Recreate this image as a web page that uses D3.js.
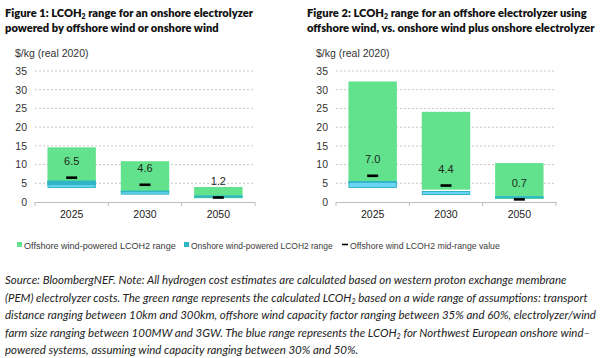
<!DOCTYPE html>
<html><head><meta charset="utf-8">
<script src="https://cdn.jsdelivr.net/npm/d3@7"></script>
<style>
html,body{margin:0;padding:0;background:#fff;}
svg{display:block;}
</style></head>
<body>
<svg id="c" width="600" height="358"></svg>
<script>
// ---- data ----
const categories = ["2025", "2030", "2050"];
const yTicks = [0, 5, 10, 15, 20, 25, 30, 35];
// Figure 1: onshore electrolyzer
const fig1OffshoreLow  = [4.5, 2.6, 1.0];
const fig1OffshoreHigh = [14.6, 10.9, 4.0];
const fig1OnshoreLow   = [3.9, 2.1, 1.3];
const fig1OnshoreHigh  = [5.6, 2.9, 1.6];
const fig1Mid          = [6.5, 4.6, 1.2];
// Figure 2: offshore electrolyzer
const fig2OffshoreLow  = [5.1, 3.3, 0.8];
const fig2OffshoreHigh = [32.2, 24.1, 10.4];
const fig2OnshoreLow   = [3.9, 2.0, 1.1];
const fig2OnshoreHigh  = [5.5, 2.8, 1.4];
const fig2Mid          = [7.0, 4.4, 0.7];

const titles1 = ["Figure 1: LCOH|2| range for an onshore electrolyzer", "powered by offshore wind or onshore wind"];
const titles2 = ["Figure 2: LCOH|2| range for an offshore electrolyzer using", "offshore wind, vs. onshore wind plus onshore electrolyzer"];
const unitLabel = "$/kg (real 2020)";
const legendLabels = ["Offshore wind-powered LCOH2 range", "Onshore wind-powered LCOH2 range", "Offshore wind LCOH2 mid-range value"];
const noteLines = [
  "Source: BloombergNEF. Note: All hydrogen cost estimates are calculated based on western proton exchange membrane",
  "(PEM) electrolyzer costs. The green range represents the calculated LCOH|2| based on a wide range of assumptions: transport",
  "distance ranging between 10km and 300km, offshore wind capacity factor ranging between 35% and 60%, electrolyzer/wind",
  "farm size ranging between 100MW and 3GW. The blue range represents the LCOH|2| for Northwest European onshore wind–",
  "powered systems, assuming wind capacity ranging between 30% and 50%."
];

// ---- style ----
const GREEN = "#62e28d", LBLUE = "#6cd4f4", TEAL = "#2fb6c4";
const svg = d3.select("#c");
const titleFont = "Lato, 'Open Sans', sans-serif";
const axisFont = "'Liberation Sans', Arial, sans-serif";

function richText(g, str, x, y, size, opts) {
  const t = g.append("text").attr("x", x).attr("y", y)
    .attr("font-family", opts.family).attr("font-size", size)
    .attr("font-weight", opts.weight || "normal")
    .attr("font-style", opts.style || "normal")
    .attr("fill", opts.fill || "#000");
  const parts = str.split("|");
  parts.forEach((p, i) => {
    if (i % 2 === 1) {
      t.append("tspan").attr("font-size", size * 0.62).attr("dy", size * 0.18).text(p);
    } else {
      const ts = t.append("tspan").text(p);
      if (i > 0) ts.attr("dy", -size * 0.18);
    }
  });
  return t;
}
function fitWidth(t, target) {
  const w = t.node().getComputedTextLength();
  const fs = +t.attr("font-size");
  const nfs = fs * target / w;
  t.attr("font-size", nfs);
  t.selectAll("tspan").each(function(){
    const s = d3.select(this);
    if (s.attr("font-size")) s.attr("font-size", nfs*0.62);
    if (s.attr("dy")) s.attr("dy", (+s.attr("dy") > 0 ? 1 : -1) * nfs * 0.18);
  });
  return nfs;
}

function panel(x0, x1, titles, titleX, titleW1, offLow, offHigh, onLow, onHigh, mid) {
  const g = svg.append("g");
  // titles
  const t1 = richText(g, titles[0], titleX, 17, 11.5, {family: titleFont, weight: 800, fill: "#111"});
  const fs = fitWidth(t1, titleW1);
  richText(g, titles[1], titleX, 32, fs, {family: titleFont, weight: 800, fill: "#111"});
  g.append("text").attr("x", x0 - 20).attr("y", 57).attr("font-family", axisFont)
    .attr("font-size", 10.5).attr("fill", "#333").text(unitLabel);

  const y = d3.scaleLinear().domain([0, 35]).range([202, 71]);
  const x = d3.scaleBand().domain(categories).range([x0, x1]).paddingInner(0.34).paddingOuter(0.17);

  // grid
  g.append("g").selectAll("line").data(yTicks.filter(d => d > 0)).join("line")
    .attr("x1", x0).attr("x2", x1).attr("y1", d => y(d)).attr("y2", d => y(d))
    .attr("stroke", "#c8c8c8").attr("stroke-width", 1).attr("stroke-dasharray", "2,2");
  // y axis labels
  g.append("g").selectAll("text").data(yTicks).join("text")
    .attr("x", x0 - 8).attr("y", d => y(d) + 3.8).attr("text-anchor", "end")
    .attr("font-family", axisFont).attr("font-size", 10.5).attr("fill", "#333").text(d => d);

  const idx = categories.map((c, i) => i);
  // green offshore range
  g.append("g").selectAll("rect").data(idx).join("rect")
    .attr("x", i => x(categories[i])).attr("width", x.bandwidth())
    .attr("y", i => y(offHigh[i])).attr("height", i => y(offLow[i]) - y(offHigh[i]))
    .attr("fill", GREEN);
  // onshore range (light blue)
  g.append("g").selectAll("rect").data(idx).join("rect")
    .attr("x", i => x(categories[i]) + 0.5).attr("width", x.bandwidth() - 1)
    .attr("y", i => y(onHigh[i])).attr("height", i => y(onLow[i]) - y(onHigh[i]))
    .attr("fill", LBLUE).attr("stroke", TEAL).attr("stroke-width", 1);
  // overlap (teal)
  g.append("g").selectAll("rect").data(idx.filter(i => Math.min(onHigh[i], offHigh[i]) > Math.max(onLow[i], offLow[i]))).join("rect")
    .attr("x", i => x(categories[i])).attr("width", x.bandwidth())
    .attr("y", i => y(Math.min(onHigh[i], offHigh[i])))
    .attr("height", i => y(Math.max(onLow[i], offLow[i])) - y(Math.min(onHigh[i], offHigh[i])))
    .attr("fill", TEAL);
  // mid markers
  g.append("g").selectAll("line").data(idx).join("line")
    .attr("x1", i => x(categories[i]) + x.bandwidth()/2 - 5.5)
    .attr("x2", i => x(categories[i]) + x.bandwidth()/2 + 5.5)
    .attr("y1", i => y(mid[i])).attr("y2", i => y(mid[i]))
    .attr("stroke", "#000").attr("stroke-width", 2.6);
  // mid labels
  g.append("g").selectAll("text").data(idx).join("text")
    .attr("x", i => x(categories[i]) + x.bandwidth()/2)
    .attr("y", i => y(mid[i]) - 12.5).attr("text-anchor", "middle")
    .attr("font-family", axisFont).attr("font-size", 11).attr("fill", "#1b2a1b")
    .text(i => mid[i].toFixed(1));

  // baseline and ticks
  g.append("line").attr("x1", x0).attr("x2", x1).attr("y1", y(0) + 0.5).attr("y2", y(0) + 0.5)
    .attr("stroke", "#bdbdbd").attr("stroke-width", 1);
  const bounds = [x0].concat(categories.map(c => x(c) + x.bandwidth() + x.step()*x.paddingInner()/2));
  bounds[bounds.length - 1] = x1;
  g.append("g").selectAll("line").data(bounds).join("line")
    .attr("x1", d => d).attr("x2", d => d).attr("y1", y(0)).attr("y2", y(0) + 4)
    .attr("stroke", "#bdbdbd");
  g.append("g").selectAll("text").data(categories).join("text")
    .attr("x", c => x(c) + x.bandwidth()/2).attr("y", 218).attr("text-anchor", "middle")
    .attr("font-family", axisFont).attr("font-size", 10.5).attr("fill", "#222").text(c => c);
}

panel(35, 255, titles1, 5, 248, fig1OffshoreLow, fig1OffshoreHigh, fig1OnshoreLow, fig1OnshoreHigh, fig1Mid);
panel(336, 556, titles2, 307, 280, fig2OffshoreLow, fig2OffshoreHigh, fig2OnshoreLow, fig2OnshoreHigh, fig2Mid);

// legend
const lg = svg.append("g");
const legFont = 10;
const lx = [17, 184, 342];
lg.append("rect").attr("x", lx[0]).attr("y", 242).attr("width", 5).attr("height", 5).attr("fill", GREEN);
lg.append("rect").attr("x", lx[1]).attr("y", 242).attr("width", 5).attr("height", 5).attr("fill", TEAL);
lg.append("line").attr("x1", lx[2]).attr("x2", lx[2] + 6).attr("y1", 244.5).attr("y2", 244.5).attr("stroke", "#000").attr("stroke-width", 1.6);
const legTargets = [152, 142, 150];
legendLabels.forEach((s, i) => {
  const t = lg.append("text").attr("x", lx[i] + (i === 2 ? 8 : 7)).attr("y", 248.5)
    .attr("font-family", axisFont).attr("font-size", legFont).attr("fill", "#3a3a3a").text(s);
  fitWidth(t, legTargets[i]);
});

// note
const ng = svg.append("g");
const noteSize = 11;
let nfs = null;
noteLines.forEach((s, i) => {
  const t = richText(ng, s, 5, 284 + i * 17.5, noteSize, {family: titleFont, style: "italic", fill: "#222"});
  if (i === 2) nfs = fitWidth(t, 591);
});
ng.selectAll("text").each(function(){
  const t = d3.select(this);
  t.attr("font-size", nfs);
  t.selectAll("tspan").each(function(){
    const s = d3.select(this);
    if (s.attr("font-size")) s.attr("font-size", nfs*0.62);
    if (s.attr("dy")) s.attr("dy", (+s.attr("dy") > 0 ? 1 : -1) * nfs * 0.18);
  });
});
</script>
</body></html>
